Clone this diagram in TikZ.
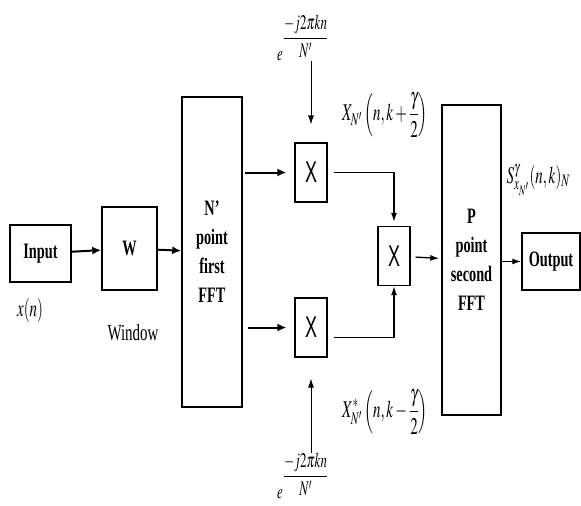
\documentclass[tikz,border=0pt]{standalone}
\usepackage{amsmath}
\usepackage{mathptmx}
\usepackage{graphicx}
\usepackage{fontspec}
\setmainfont{Liberation Serif}
\newfontfamily\blockfont{Liberation Serif}[FakeStretch=0.65]
\newfontfamily\multfont{Liberation Sans}[FakeStretch=0.6]
\usetikzlibrary{arrows.meta, positioning}
\newcommand{\tallmath}[1]{\scalebox{1}[1.6]{$\displaystyle #1$}}
\tikzset{
  every picture/.style={line width=1.2pt},
  box/.style={draw, line width=1.5pt, inner sep=0pt, align=center, font=\blockfont\bfseries\fontsize{22}{29}\selectfont},
  mult/.style={draw, line width=1.2pt, minimum width=32pt, minimum height=59pt, inner sep=0pt, font=\multfont\fontsize{30}{30}\selectfont},
  arrow/.style={-{Latex[length=9pt, width=8pt]}, line width=2pt},
  link/.style={-{Latex[length=9pt, width=6pt]}, line width=1.3pt},
  feed/.style={-{Latex[length=9pt, width=6pt]}, line width=0.9pt},
  mathlbl/.style={font=\fontsize{15}{15}\selectfont, inner sep=0pt},
  caption/.style={font=\blockfont\fontsize{23}{23}\selectfont, inner sep=0pt},
}

\begin{document}
\begin{tikzpicture}[x=1pt, y=-1pt]
  \useasboundingbox (0,0) rectangle (581,506);
  % blocks
  \node[box, minimum width=61pt, minimum height=57pt] (in) at (40.5,253.5) {Input};
  \node[box, minimum width=55pt, minimum height=83pt] (win) at (129.5,248.5) {W};
  \node[box, minimum width=60pt, minimum height=310pt] (fft1) at (212,252) {N’\\point\\first\\FFT};
  \node[mult] (mulA) at (311,172.5) {X};
  \node[mult] (mulB) at (311,327.5) {X};
  \node[mult] (mulC) at (394,256) {X};
  \node[box, minimum width=59pt, minimum height=310pt] (fft2) at (471.5,260) {P\\point\\second\\FFT};
  \node[box, minimum width=58pt, minimum height=57pt] (out) at (551,261.5) {Output};
  % labels
  \node[mathlbl] (xn) at (30,310) {\tallmath{x(n)}};
  \node[caption] (winlbl) at (133,333) {Window};
  \node[mathlbl] (lblA) at (385,115) {\tallmath{X_{N'}\left(n,k+\frac{\gamma}{2}\right)}};
  \node[mathlbl] (lblB) at (385,412) {\tallmath{X^{*}_{N'}\left(n,k-\frac{\gamma}{2}\right)}};
  \node[mathlbl, anchor=west] (lblS) at (506,180) {\tallmath{S^{\gamma}_{x_{N'}}(n,k)_{N}}};
  \node[mathlbl, font=\fontsize{13}{13}\selectfont] (expA) at (303,38) {\tallmath{e^{\dfrac{-j2\pi kn}{N'}}}};
  \node[mathlbl, font=\fontsize{13}{13}\selectfont] (expB) at (303,476) {\tallmath{e^{\dfrac{-j2\pi kn}{N'}}}};
  % connectors
  \draw[arrow] (in) -- (win); \draw[arrow] (win) -- (fft1);
  \draw[arrow, shorten <=2pt, shorten >=8pt] (fft1.east |- mulA) -- (mulA);
  \draw[arrow, shorten <=5pt, shorten >=8pt] (fft1.east |- mulB) -- (mulB);
  \draw[link, shorten <=6pt, shorten >=4pt] (mulA.east) -| (mulC.north);
  \draw[link, shorten <=6pt] ([yshift=-10pt]mulB.east) -| (mulC.south);
  \draw[link, shorten <=5pt, shorten >=2pt] (mulC) -- (fft2);
  \draw[link] (fft2.east |- out.west) -- (out.west);
  \draw[feed, shorten >=18pt] (expA.south -| mulA) -- (mulA.north);
  \draw[feed, shorten >=21pt] (expB.north -| mulB) -- (mulB.south);
\end{tikzpicture}
\end{document}
